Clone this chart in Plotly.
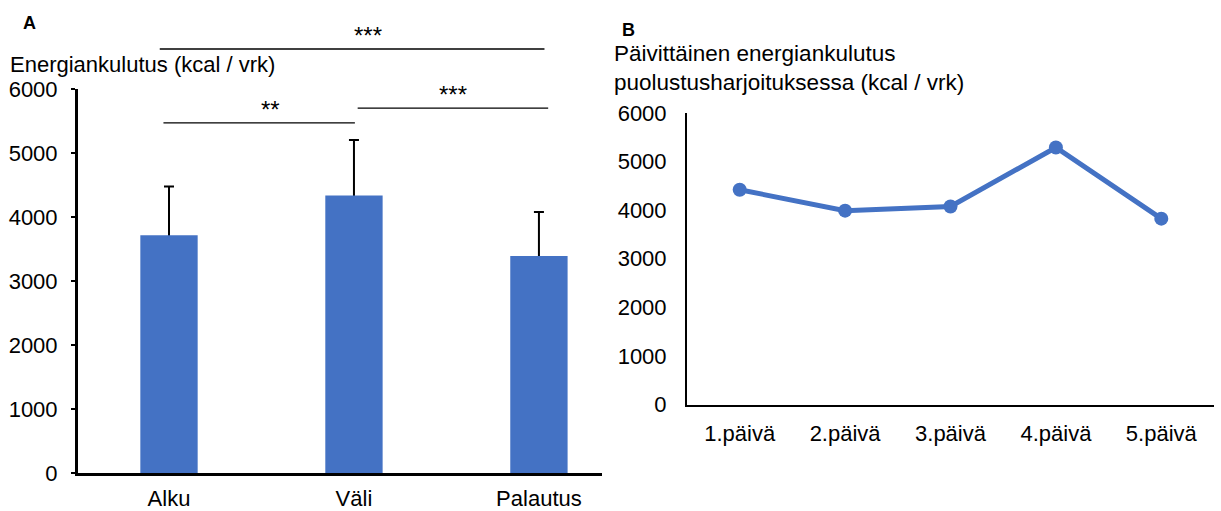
import plotly.graph_objects as go

# Panel A: energy expenditure by phase (mean + SD)
phases = ["Alku", "Väli", "Palautus"]
energy_mean = [3715, 4335, 3390]
energy_sd = [760, 870, 690]

# Panel B: daily energy expenditure during the defence exercise
days = ["1.päivä", "2.päivä", "3.päivä", "4.päivä", "5.päivä"]
daily_energy = [4420, 3990, 4075, 5290, 3825]

y_ticks = [0, 1000, 2000, 3000, 4000, 5000, 6000]

# Significance brackets for panel A: (start, end in category units, level, label)
brackets = [
    (-0.05, 2.03, 6625, "***"),
    (-0.03, 1.005, 5470, "**"),
    (1.02, 2.05, 5700, "***"),
]

W, H = 1221, 511
BLUE = "#4472C4"
FONT = "Liberation Sans, Arial, sans-serif"

# Subplot geometry (paper fractions)
ax_a_x = [78 / W, 602 / W]
ax_a_y = [1 - 473 / H, 1 - 89 / H]
rng_a_x = [-0.492, 2.341]
rng_a_y = [0, 6000]

ax_b_x = [687 / W, 1214 / W]
ax_b_y = [1 - 404.5 / H, 1 - 113 / H]
rng_b_x = [-0.5, 4.5]
rng_b_y = [0, 6000]


def px(v, dom, rng):
    return dom[0] + (v - rng[0]) / (rng[1] - rng[0]) * (dom[1] - dom[0])


fig = go.Figure()

# Whiskers (mean + SD) sit on the base axis; the bars on an overlaid axis
# cover the lower part so only the upper whisker shows.
whisker_top = [m + s for m, s in zip(energy_mean, energy_sd)]
fig.add_trace(go.Scatter(
    x=phases, y=whisker_top, mode="markers",
    marker=dict(size=0.1, color="rgba(0,0,0,0)"),
    error_y=dict(type="data", symmetric=False, array=[0] * len(phases),
                 arrayminus=whisker_top, color="black", thickness=2, width=5),
    xaxis="x", yaxis="y", showlegend=False, hoverinfo="skip",
))

fig.add_trace(go.Bar(
    x=phases, y=energy_mean, width=0.31,
    marker=dict(color=BLUE, line=dict(width=0)),
    xaxis="x", yaxis="y3", showlegend=False,
))

fig.add_trace(go.Scatter(
    x=days, y=daily_energy, mode="lines+markers",
    line=dict(color=BLUE, width=5),
    marker=dict(color=BLUE, size=14),
    xaxis="x2", yaxis="y2", showlegend=False,
))

tick_font = dict(family=FONT, size=22, color="black")

fig.update_layout(
    template="none",
    width=W, height=H,
    margin=dict(l=0, r=0, t=0, b=0, autoexpand=False),
    paper_bgcolor="white", plot_bgcolor="white",
    font=dict(family=FONT, color="black"),
    xaxis=dict(domain=ax_a_x, range=rng_a_x, showline=True, linecolor="black",
               linewidth=3, ticks="", showgrid=False, zeroline=False,
               automargin=False, tickfont=tick_font, ticklabelstandoff=4),
    yaxis=dict(domain=ax_a_y, range=rng_a_y, tickvals=y_ticks, showline=True,
               linecolor="black", linewidth=3, ticks="outside", ticklen=4,
               tickwidth=2, tickcolor="black", showgrid=False, zeroline=False,
               automargin=False, tickfont=tick_font, ticklabelstandoff=9),
    yaxis3=dict(domain=ax_a_y, range=rng_a_y, overlaying="y", anchor="x",
                visible=False, showgrid=False, zeroline=False),
    xaxis2=dict(domain=ax_b_x, range=rng_b_x, anchor="y2", showline=True,
                linecolor="black", linewidth=2, ticks="", showgrid=False,
                zeroline=False, automargin=False, tickfont=tick_font,
                ticklabelstandoff=8),
    yaxis2=dict(domain=ax_b_y, range=rng_b_y, anchor="x2", tickvals=y_ticks,
                showline=True, linecolor="black", linewidth=2, ticks="",
                showgrid=False, zeroline=False, automargin=False,
                tickfont=tick_font, ticklabelstandoff=14),
)

shapes = []
annotations = []
for x0, x1, level, label in brackets:
    yp = px(level, ax_a_y, rng_a_y)
    shapes.append(dict(type="line", xref="paper", yref="paper",
                       x0=px(x0, ax_a_x, rng_a_x), x1=px(x1, ax_a_x, rng_a_x),
                       y0=yp, y1=yp, line=dict(color="black", width=1.3)))
    annotations.append(dict(xref="paper", yref="paper",
                            x=px((x0 + x1) / 2, ax_a_x, rng_a_x), y=yp,
                            text=label, showarrow=False, yanchor="bottom",
                            yshift=-2, font=dict(family=FONT, size=24, color="black")))

annotations += [
    dict(xref="paper", yref="paper", x=30 / W, y=1 - 23 / H, text="<b>A</b>",
         showarrow=False, xanchor="center", yanchor="middle",
         font=dict(family=FONT, size=18, color="black")),
    dict(xref="paper", yref="paper", x=628 / W, y=1 - 30 / H, text="<b>B</b>",
         showarrow=False, xanchor="center", yanchor="middle",
         font=dict(family=FONT, size=18, color="black")),
    dict(xref="paper", yref="paper", x=8 / W, y=1 - 65 / H,
         text="Energiankulutus (kcal / vrk)", showarrow=False,
         xanchor="left", yanchor="middle",
         font=dict(family=FONT, size=22, color="black")),
    dict(xref="paper", yref="paper", x=612 / W, y=1 - 68 / H,
         text="Päivittäinen energiankulutus<br>puolustusharjoituksessa (kcal / vrk)",
         showarrow=False, xanchor="left", yanchor="middle", align="left",
         font=dict(family=FONT, size=22.5, color="black")),
]

fig.update_layout(shapes=shapes, annotations=annotations)

fig.write_html("out.html")
